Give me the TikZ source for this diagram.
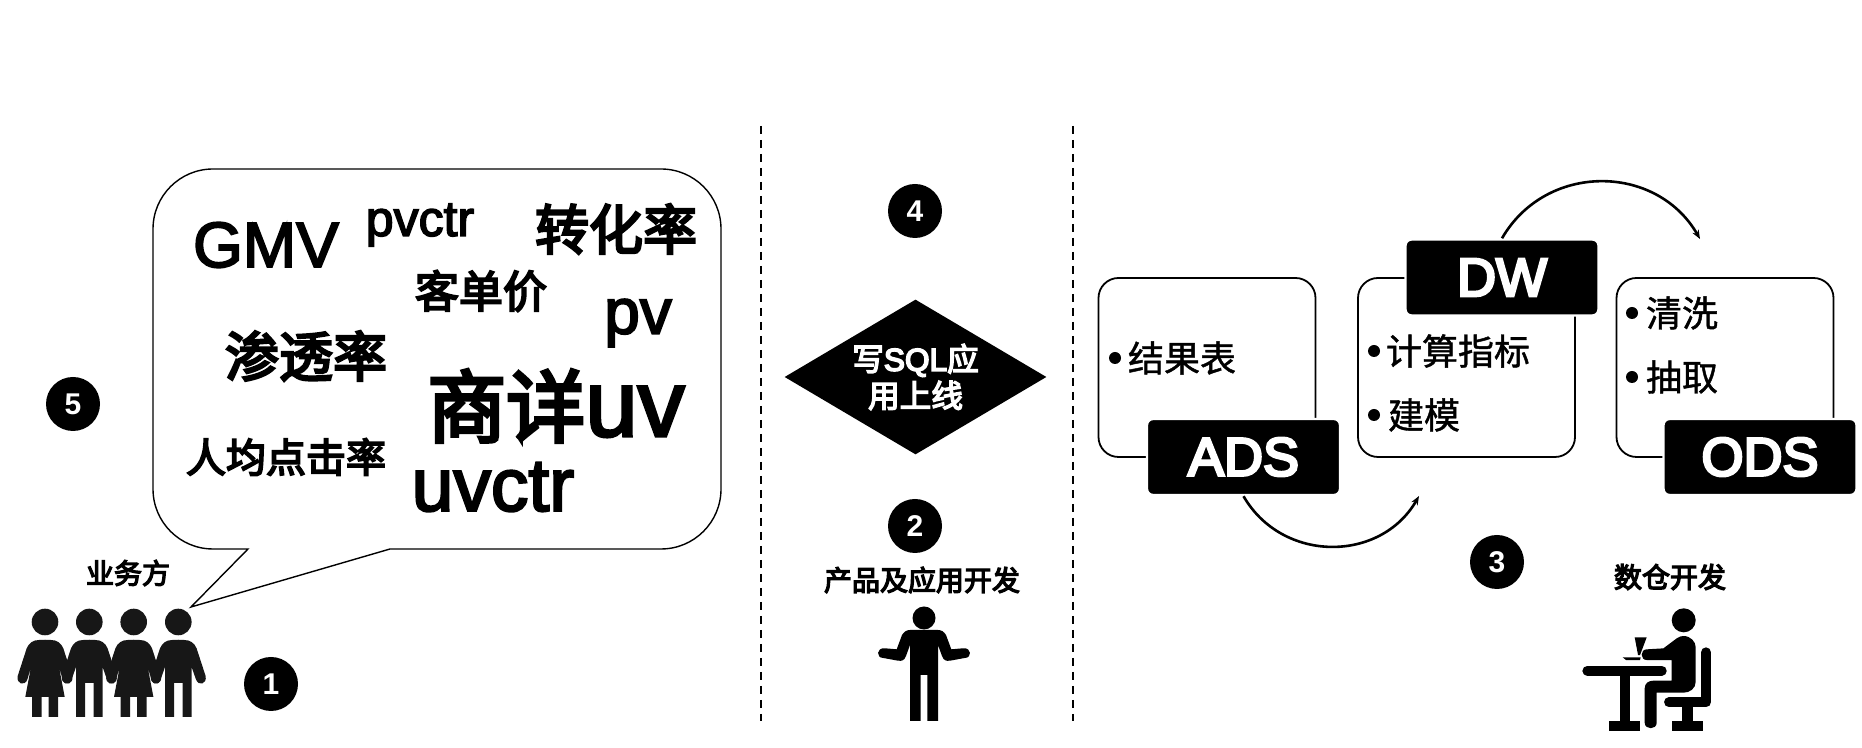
\documentclass[tikz,border=0pt]{standalone}
\usepackage{fontspec}
\usetikzlibrary{shapes.geometric,arrows.meta}
\setmainfont{Liberation Sans}
\newfontfamily\latinmed[FakeBold=3]{Liberation Sans}
\newfontfamily\latinbold[FakeBold=5]{Liberation Sans}
\newfontfamily\cjk[FakeBold=1.2]{Noto Sans CJK SC}
\newfontfamily\cjkmed[FakeBold=4.5]{Noto Sans CJK SC}
\newcommand{\fsize}[1]{\fontsize{#1}{#1}\selectfont}
\tikzset{
    num node/.style={circle,fill=black,text=white,inner sep=0pt,minimum size=27pt,font=\fsize{15}\bfseries},
    term node/.style={inner sep=0pt,font=\fsize{#1}\cjkmed},
    latin node/.style={inner sep=0pt,font=\fsize{#1}\latinmed},
    role node/.style={inner sep=0pt,font=\fsize{14}\cjkmed},
    layer box/.style={draw,line width=0.9pt,rounded corners=10pt,minimum width=108.5pt,minimum height=89.5pt},
    layer tag/.style={rectangle,fill=black,draw=white,line width=1.2pt,rounded corners=3pt,text=white,minimum width=96.5pt,minimum height=38pt,inner sep=0pt,font=\fsize{27}\latinbold},
    dot node/.style={circle,fill=black,inner sep=0pt,minimum size=6pt},
    item node/.style={inner sep=0pt,font=\fsize{18}\cjk},
    divider/.style={line width=1pt,dash pattern=on 4pt off 3pt},
    flow/.style={-{Stealth[length=4.5pt,width=3.5pt]},line width=1.3pt},
    pics/man/.style={code={
        \fill (0,95) circle (6.65pt);
        \foreach \s in {1,-1}{
            \fill[xscale=\s] (-0.5,77) -- (6,77) .. controls (12,77) and (16,74) .. (18.3,68.7) -- (27.3,41) .. controls (29,33) and (20,30) .. (17.5,38) -- (13.3,50) -- (13.3,0) -- (4.3,0) -- (4.3,34) -- (-0.5,34) -- cycle;
        }
    }},
    pics/woman/.style={code={
        \fill (0,95) circle (6.65pt);
        \foreach \s in {1,-1}{
            \fill[xscale=\s] (-0.5,77) -- (6,77) .. controls (12,77) and (16,74) .. (18.3,68.7) -- (27.3,41) .. controls (29,33) and (20,30) .. (17.5,38) -- (14,50) -- (19.7,20) -- (13,20) -- (13,0) -- (3.5,0) -- (3.5,20) -- (-0.5,20) -- cycle;
        }
    }},
    pics/shrug/.style={code={
        \fill (0,103) circle (5.75pt);
        \foreach \s in {1,-1}{
            \fill[xscale=\s] (-0.5,91) -- (14,91) .. controls (18,91) and (20,89) .. (22,86) -- (27.3,71.7) -- (39,72.7) .. controls (48,73.5) and (48,63) .. (40.7,63) -- (26,60.3) .. controls (22,60) and (20,60) .. (18,65) -- (14,76) -- (14,0) -- (3.3,0) -- (3.3,46) -- (-0.5,46) -- cycle;
        }
    }},
}
\begin{document}
\begin{tikzpicture}[x=0.5pt,y=0.5pt]
    \useasboundingbox (0,0) rectangle (1862,748);

    % speech bubble
    \draw[line width=0.7pt] (248,199) -- (213,199) arc (270:180:60) -- (153,519) arc (180:90:60) -- (661,579) arc (90:0:60) -- (721,259) arc (0:-90:60) -- (390,199) -- (191,141) -- cycle;

    \node[latin node=32] (gmv) at (266,503) {GMV};
    \node[latin node=25] (pvctr) at (420,523) {pvctr};
    \node[term node=27] (conv) at (616,519) {转化率};
    \node[term node=22] (price) at (481,457) {客单价};
    \node[latin node=32] (pv) at (638,425) {pv};
    \node[term node=27] (reach) at (306,392) {渗透率};
    \node[inner sep=0pt,font=\fsize{47}\latinmed] (detail) at (556,342) {{\fsize{39.5}\cjkmed 商详}uv};
    \node[term node=20] (clicks) at (286,291) {人均点击率};
    \node[latin node=37.5] (uvctr) at (493,261) {uvctr};

    % people
    \node[num node] (n1) at (271,64) {1};
    \node[num node] (n2) at (915,222) {2};
    \node[num node] (n3) at (1497,186) {3};
    \node[num node] (n4) at (915,537) {4};
    \node[num node] (n5) at (73,344) {5};

    \node[role node] (biz) at (128,175) {业务方};
    \node[role node] (app) at (922,168) {产品及应用开发};
    \node[role node] (dev) at (1670,171) {数仓开发};

    \fill[black!91] pic at (45,31) {woman} pic at (89.3,31) {man} pic at (133.7,31) {woman} pic at (178.3,31) {man};
    \pic at (924,27) {shrug};

    \begin{scope}[shift={(1540,188)},x=0.1667pt,y=-0.1667pt]
        \fill (431,181) circle (6pt);
        \fill (430,228) .. controls (452,228) and (467,245) .. (467,262) -- (467,365) .. controls (467,385) and (450,398) .. (430,398) -- (350,398) -- (350,488) .. controls (350,510) and (314,510) .. (314,488) -- (314,385) .. controls (314,370) and (325,362) .. (340,362) -- (395,362) -- (395,300) -- (320,300) .. controls (300,300) and (300,268) .. (320,268) -- (370,265) -- (410,235) .. controls (417,230) and (424,228) .. (430,228) -- cycle;
        \draw[line width=5pt,line cap=round,line join=round] (498,277) -- (498,427) -- (387,427);
        \fill (427,440) rectangle (458,485);
        \fill (395,483) rectangle (488,513);
        \draw[line width=5pt,line cap=round] (142,332) -- (365,332);
        \fill (240,340) rectangle (270,485);
        \fill (207,483) rectangle (300,513);
        \fill (284,232) -- (320,232) -- (300,285) -- (294,285) -- cycle;
        \fill (248,292) -- (302,292) -- (300,300) -- (258,300) -- cycle;
    \end{scope}

    % dividers
    \coordinate (d1t) at (761,622);
    \coordinate (d1b) at (761,27);
    \coordinate (d2t) at (1073,622);
    \coordinate (d2b) at (1073,27);
    \draw[divider] (d1t) -- (d1b);
    \draw[divider] (d2t) -- (d2b);

    \node[diamond,fill=black,text=white,inner sep=0pt,shape aspect=1.68,minimum width=131pt,minimum height=77.5pt,align=center,font=\fsize{15.8}\latinbold] (sql) at (915.5,371) {{\cjkmed 写}SQL{\cjkmed 应}\\[1pt]{\cjkmed 用上线}};

    % layers
    \node[layer box] (adsbox) at (1207,380.5) {};
    \node[layer box] (dwbox) at (1466.5,380.5) {};
    \node[layer box] (odsbox) at (1725,380.5) {};
    \node[layer tag] (ads) at (1243.5,291) {ADS};
    \node[layer tag] (dw) at (1502,470.5) {DW};
    \node[layer tag] (ods) at (1760,291) {ODS};

    \node[dot node] (b1) at (1115,390) {};
    \node[dot node] (b2) at (1374,397) {};
    \node[dot node] (b3) at (1374,333) {};
    \node[dot node] (b4) at (1632,435) {};
    \node[dot node] (b5) at (1632,371) {};
    \node[item node,node distance=33.5pt] (t1) [right of=b1] {结果表};
    \node[item node,node distance=42pt] (t2) [right of=b2] {计算指标};
    \node[item node,node distance=25pt] (t3) [right of=b3] {建模};
    \node[item node,node distance=25pt] (t4) [right of=b4] {清洗};
    \node[item node,node distance=25pt] (t5) [right of=b5] {抽取};

    \coordinate (adsto) at (1419,252);
    \coordinate (dwto) at (1700,509);
    \draw[flow] (ads.south) to[out=-60,in=-120,looseness=1.13] (adsto);
    \draw[flow] (dw.north) to[out=60,in=120,looseness=1.13] (dwto);
\end{tikzpicture}
\end{document}
